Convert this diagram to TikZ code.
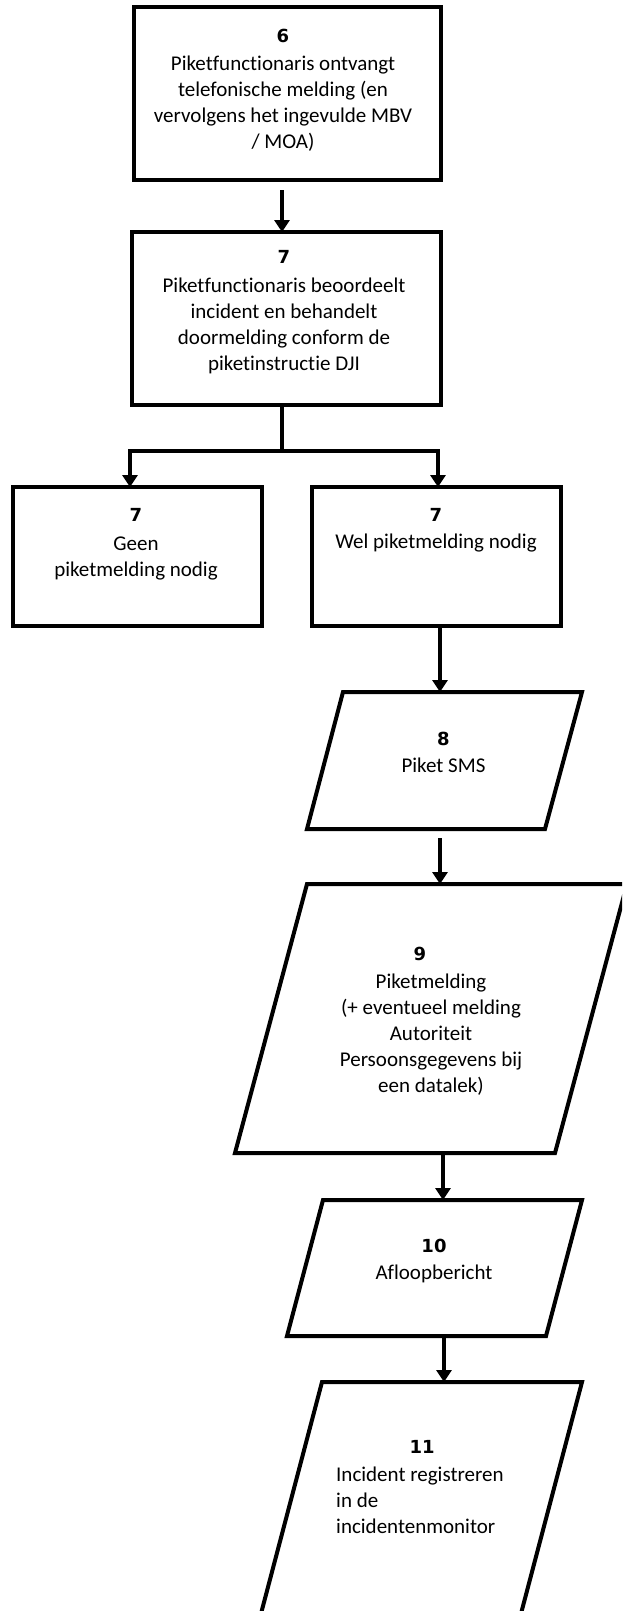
\documentclass[tikz,border=0pt]{standalone}
\usepackage{fontspec}
\setmainfont{Carlito}[Ligatures={NoCommon}]
\newfontfamily\numfont{DejaVu Sans}
\newcommand{\numtxt}{\numfont\bfseries\fontsize{18}{26}\selectfont}
\usetikzlibrary{arrows.meta}
\begin{document}
\begin{tikzpicture}[x=1pt,y=-1pt,
  boxst/.style={draw, line width=4pt, rectangle, inner sep=0pt, outer sep=0pt},
  parast/.style={draw, line width=4pt, line join=miter},
  ln/.style={line width=3.5pt},
  arr/.style={line width=3.5pt, -{Triangle[width=15pt,length=12pt]}},
  txt/.style={font=\fontsize{21}{26}\selectfont, align=center, inner sep=0pt, anchor=north},
]
\useasboundingbox (0,0) rectangle (622,1611);
\clip (0,0) rectangle (622,1611);

% rectangular boxes
\node[boxst, minimum width=307pt, minimum height=173pt] (b6) at (287.5,93.5) {};
\node[boxst, minimum width=309pt, minimum height=173pt] (b7) at (286.5,318.5) {};
\node[boxst, minimum width=249pt, minimum height=139pt] (bl) at (137.5,556.5) {};
\node[boxst, minimum width=249pt, minimum height=139pt] (br) at (436.5,556.5) {};

% parallelograms
\draw[parast] (343,692) -- (582,692) -- (545,829) -- (307,829) -- cycle;
\draw[parast] (307,884) -- (627,884) -- (555,1153) -- (235,1153) -- cycle;
\draw[parast] (323,1200) -- (582,1200) -- (546,1336) -- (287,1336) -- cycle;
\draw[parast] (322,1382) -- (582,1382) -- (518,1625) -- (258,1625) -- cycle;

% texts
\node[txt] (t6) at (283,28.5) {{\numtxt 6}\\[2.5pt]Piketfunctionaris ontvangt\\telefonische melding (en\\vervolgens het ingevulde MBV\\/ MOA)};
\node[txt] (t7) at (284,250.5) {{\numtxt 7}\\[2.5pt]Piketfunctionaris beoordeelt\\incident en behandelt\\doormelding conform de\\piketinstructie DJI};
\node[txt] (tl) at (136,508.5) {{\numtxt 7}\\[2.5pt]Geen\\piketmelding nodig};
\node[txt] (tr) at (436,508.5) {{\numtxt 7}\\[1pt]Wel piketmelding nodig};
\node[txt] (t8) at (443.5,731.5) {{\numtxt 8}\\[1pt]Piket SMS};
\node[txt] (t9) at (431,946.5) {{\numtxt 9}\makebox[22pt]{}\\[2pt]Piketmelding\\(+ eventueel melding\\Autoriteit\\Persoonsgegevens bij\\een datalek)};
\node[txt] (t10) at (434,1238.5) {{\numtxt 10}\\[1pt]Afloopbericht};
\node[txt, align=left, anchor=north west] (t11) at (336,1440.5) {\hspace*{73.5pt}{\numtxt 11}\\[1.5pt]Incident registreren\\in de\\incidentenmonitor};

% connector coordinates
\coordinate (a67) at (282,190);
\coordinate (split) at (282,451);
\coordinate (jl) at (130,451);
\coordinate (jr) at (438,451);
\coordinate (k1) at (440,626);
\coordinate (p8t) at (440,692);
\coordinate (k2) at (440,838);
\coordinate (p9t) at (440,884);
\coordinate (p9b) at (443,1153);
\coordinate (p10t) at (443,1200);
\coordinate (p10b) at (444,1336);
\coordinate (p11t) at (444,1382);

% connectors
\draw[arr] (a67) -- (a67 |- b7.north);
\draw[ln] (split |- b7.south) -- (split);
\draw[arr] (split) -- (jl) -- (jl |- bl.north);
\draw[arr] (split) -- (jr) -- (jr |- br.north);
\draw[arr] (k1) -- (p8t);
\draw[arr] (k2) -- (p9t);
\draw[arr] (p9b) -- (p10t);
\draw[arr] (p10b) -- (p11t);
\end{tikzpicture}
\end{document}
